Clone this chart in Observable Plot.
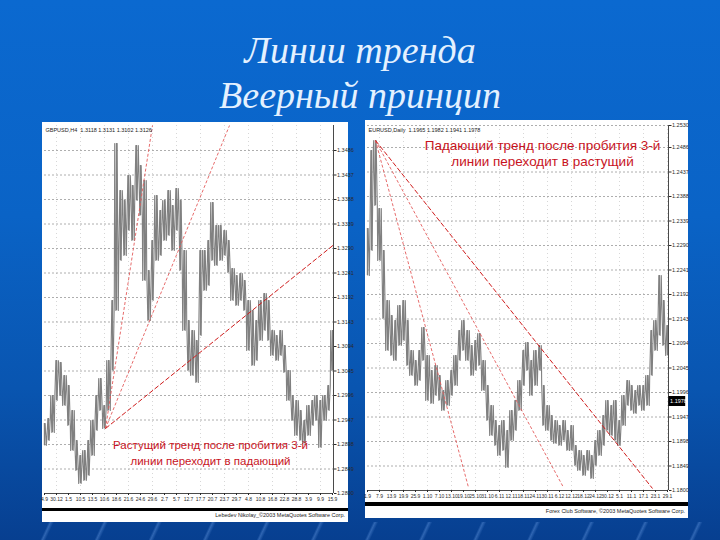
<!DOCTYPE html>
<html><head><meta charset="utf-8">
<script src="https://cdn.jsdelivr.net/npm/d3@7"></script>
<script src="https://cdn.jsdelivr.net/npm/@observablehq/plot@0.6"></script>
<style>
html,body{margin:0;padding:0;}
body{width:720px;height:540px;position:relative;overflow:hidden;
 background:linear-gradient(180deg,#0b69d0 0%,#0a63c6 40%,#0955b0 72%,#073f90 100%);
 font-family:"Liberation Sans",Arial,sans-serif;}
.streaks{position:absolute;left:0;top:522px;width:720px;height:18px;
 background:repeating-linear-gradient(115deg,rgba(120,170,240,0) 0px,rgba(120,170,240,0) 44px,rgba(120,170,240,0.35) 46px,rgba(120,170,240,0) 49px);}
.title{position:absolute;left:0;width:720px;text-align:center;color:#e4f1ff;
 font-family:"Liberation Serif","DejaVu Serif",serif;font-style:italic;font-size:38px;line-height:1;white-space:nowrap;}
.chart{position:absolute;}
.band{position:absolute;background:#000;}
.cap{position:absolute;background:#fff;font-size:5.5px;color:#222;text-align:right;box-sizing:border-box;padding-right:3px;}
</style></head>
<body>
<div class="streaks"></div>
<div class="title" style="top:31px">Линии тренда</div>
<div class="title" style="top:76px">Веерный принцип</div>
<div id="left" class="chart" style="left:42px;top:122px"></div>
<div class="band" style="left:42px;top:508px;width:306px;height:3px"></div>
<div class="cap" style="left:42px;top:511px;width:306px;height:11px;line-height:9px">Lebedev Nikolay_©2003 MetaQuotes Software Corp.</div>
<div id="right" class="chart" style="left:365px;top:120px"></div>
<div class="band" style="left:365px;top:502px;width:323px;height:4px"></div>
<div class="cap" style="left:365px;top:506px;width:323px;height:12px;line-height:10px">Forex Club Software, ©2003 MetaQuotes Software Corp.</div>
<script>
// ---------- LEFT CHART DATA (bars: high / low) ----------
const leftHigh = [1.2940,1.2950,1.2996,1.3066,1.3062,1.3036,1.3016,1.2966,1.2906,1.2876,
  1.2886,1.2906,1.2946,1.2996,1.3030,1.2976,1.3066,1.3186,1.3500,1.3406,
  1.3386,1.3436,1.3416,1.3496,1.3456,1.3426,1.3246,1.3306,1.3396,1.3366,
  1.3386,1.3406,1.3376,1.3410,1.3386,1.3286,1.3146,1.3126,1.3106,1.3286,
  1.3286,1.3306,1.3382,1.3336,1.3336,1.3326,1.3306,1.3250,1.3236,1.3240,
  1.3226,1.3186,1.3166,1.3146,1.3186,1.3200,1.3186,1.3126,1.3116,1.3126,
  1.3096,1.3046,1.2996,1.2986,1.2966,1.2946,1.2976,1.2986,1.2996,1.2986,
  1.2996,1.3016,1.3126];
const leftLow = [1.2896,1.2906,1.2922,1.2986,1.2996,1.2976,1.2936,1.2886,1.2846,1.2820,
  1.2826,1.2836,1.2876,1.2926,1.2966,1.2930,1.2966,1.3046,1.3166,1.3266,
  1.3276,1.3326,1.3306,1.3386,1.3356,1.3226,1.3146,1.3186,1.3266,1.3276,
  1.3306,1.3316,1.3286,1.3326,1.3246,1.3126,1.3046,1.3036,1.3022,1.3116,
  1.3206,1.3216,1.3266,1.3256,1.3266,1.3276,1.3242,1.3186,1.3176,1.3186,
  1.3166,1.3086,1.3056,1.3066,1.3106,1.3126,1.3106,1.3076,1.3066,1.3076,
  1.3042,1.2986,1.2946,1.2916,1.2906,1.2900,1.2916,1.2936,1.2946,1.2892,
  1.2946,1.2966,1.3046];
const leftYTicks = [1.2800,1.2849,1.2898,1.2947,1.2996,1.3045,1.3094,1.3143,1.3192,1.3241,1.3290,1.3339,1.3388,1.3437,1.3486];
const leftXLabels = ["4.9","30.12","1.5","10.5","13.5","10.6","18.6","21.6","24.6","29.6","2.7","5.7","12.7",
  "17.7","20.7","23.7","29.7","4.8","10.8","16.8","22.8","28.8","3.9","9.9","15.9"];
const leftFanStart = [15.25, 1.2930];
const leftFanEnds = [[27, 1.3536], [46.25, 1.3536], [72.25, 1.3297]];
const leftHeader = "GBPUSD,H4  1.3118 1.3131 1.3102 1.3126";
const leftNote = "Растущий тренд после пробития 3-й\nлинии переходит в падающий";
const leftNoteAt = [41.5, 1.2884];

// ---------- RIGHT CHART DATA ----------
const rightHigh = [1.2324,1.2480,1.2500,1.2364,1.2280,1.2180,1.2150,1.2140,1.2170,1.2180,
  1.2140,1.2080,1.2060,1.2080,1.2126,1.2070,1.2040,1.2050,1.2030,1.2000,
  1.2020,1.2040,1.2070,1.2120,1.2140,1.2120,1.2090,1.2100,1.2114,1.2060,
  1.2010,1.1970,1.1940,1.1930,1.1940,1.1920,1.1960,1.1980,1.2020,1.2080,
  1.2096,1.2060,1.2080,1.2090,1.2010,1.1970,1.1950,1.1940,1.1930,1.1940,
  1.1920,1.1930,1.1890,1.1880,1.1870,1.1880,1.1870,1.1900,1.1920,1.1950,
  1.1980,1.1970,1.1980,1.1940,1.1990,1.2020,1.2010,1.2000,1.2010,1.2010,
  1.2030,1.2120,1.2140,1.2230,1.2180,1.2130];
const rightLow = [1.2230,1.2280,1.2370,1.2260,1.2144,1.2080,1.2070,1.2060,1.2090,1.2100,
  1.2050,1.2030,1.2010,1.2020,1.2060,1.1980,1.1974,1.1990,1.1980,1.1960,
  1.1970,1.1990,1.2010,1.2060,1.2080,1.2060,1.2030,1.2040,1.2050,1.2000,
  1.1940,1.1910,1.1890,1.1870,1.1880,1.1846,1.1900,1.1920,1.1960,1.2010,
  1.2040,1.1990,1.2010,1.2040,1.1930,1.1920,1.1900,1.1894,1.1890,1.1900,
  1.1880,1.1880,1.1850,1.1840,1.1830,1.1840,1.1824,1.1850,1.1870,1.1890,
  1.1920,1.1910,1.1900,1.1890,1.1930,1.1970,1.1960,1.1954,1.1970,1.1960,
  1.1970,1.2030,1.2080,1.2110,1.2090,1.2070];
const rightYTicks = [1.1800,1.1849,1.1898,1.1947,1.1996,1.2045,1.2094,1.2143,1.2192,1.2241,1.2290,1.2339,1.2388,1.2437,1.2486,1.2530];
const rightXLabels = ["1.9","7.9","13.9","19.9","25.9","1.10","7.10","13.10","19.10","25.10","31.10","6.11","12.11",
  "18.11","24.11","30.11","6.12","12.12","18.12","24.12","30.12","5.1","11.1","17.1","23.1","29.1"];
const rightFanStart = [2, 1.2500];
const rightFanEnds = [[25.25, 1.1806], [49, 1.1806], [71.25, 1.1804]];
const rightHeader = "EURUSD,Daily  1.1965 1.1982 1.1941 1.1978";
const rightNote = "Падающий тренд после пробития 3-й\nлинии переходит в растущий";
const rightNoteAt = [43.75, 1.2475];
const rightLast = 1.1978;

// ---------- drawing ----------
const gray = "#808080";
const noteRed = "#c8141e";

function pricePanel(o) {
  const bars = o.high.map((h, i) => ({i, hi: h, lo: o.low[i]}));
  // path visiting each bar's high and low inside the bar's own slot (order alternates)
  const zig = bars.flatMap(b => b.i % 2
    ? [{x: b.i - 0.45, y: b.lo}, {x: b.i - 0.15, y: b.hi}, {x: b.i + 0.15, y: b.lo}, {x: b.i + 0.45, y: b.hi}]
    : [{x: b.i - 0.45, y: b.hi}, {x: b.i - 0.15, y: b.lo}, {x: b.i + 0.15, y: b.hi}, {x: b.i + 0.45, y: b.lo}]);
  const xTicks = o.xLabels.map((_, k) => k * 3);
  const xLab = new Map(xTicks.map((t, k) => [t, o.xLabels[k]]));
  const fans = o.fanEnds.map(e => ({x1: o.fanStart[0], y1: o.fanStart[1], x2: e[0], y2: e[1]}));
  const xMax = o.xDomain[1];
  const marks = [
    Plot.gridY(o.yTicks, {stroke: "#8c8c8c", strokeOpacity: 0.7, strokeDasharray: "2,2"}),
    Plot.gridX(xTicks.filter((t, k) => k % 2 === 1), {stroke: "#9a9a9a", strokeOpacity: 0.4, strokeDasharray: "1,3"}),
    Plot.line(zig, {x: "x", y: "y", stroke: gray, strokeWidth: 1.1, clip: true}),
    Plot.ruleX(bars, {x: "i", y1: "lo", y2: "hi", stroke: gray, strokeWidth: 1.4}),
    Plot.link(fans.slice(0, 2), {x1: "x1", y1: "y1", x2: "x2", y2: "y2", stroke: "#e35a5a", strokeWidth: 0.9, strokeDasharray: "3,2", clip: true}),
    Plot.link(fans.slice(2), {x1: "x1", y1: "y1", x2: "x2", y2: "y2", stroke: "#cf1c1c", strokeWidth: 1, strokeDasharray: "5,2", clip: true}),
    Plot.ruleX([xMax], {stroke: "#4a4a4a"}),
    Plot.ruleY([o.yDomain[0]], {stroke: "#4a4a4a"}),
    Plot.axisY(o.yTicks, {anchor: "right", tickFormat: d => d.toFixed(4), fontSize: 5.5, tickSize: 2.5, tickPadding: 1, color: "#2a2a2a"}),
    Plot.axisX(xTicks, {anchor: "bottom", tickFormat: d => xLab.get(d), fontSize: 5, tickSize: 2, tickPadding: 1.5, color: "#2a2a2a"}),
    Plot.text([o.header], {frameAnchor: "top-left", dx: 1, dy: 3, fontSize: 5.5, fill: "#222"}),
    Plot.text([o.note], {x: o.noteAt[0], y: o.noteAt[1], fontSize: o.noteSize, lineHeight: o.noteLH, fill: noteRed})
  ];
  if (o.last !== undefined) {
    marks.push(Plot.rect([o.last], {x1: xMax + 0.1, x2: xMax + 4.3, y1: d => d - 0.0010, y2: d => d + 0.0010, fill: "#000"}));
    marks.push(Plot.text([o.last], {x: xMax + 0.4, y: d => d, text: d => d.toFixed(4), textAnchor: "start", fontSize: 5.5, fill: "#fff"}));
  }
  return Plot.plot({
    width: o.width, height: o.height,
    marginLeft: o.m[0], marginRight: o.m[1], marginTop: o.m[2], marginBottom: o.m[3],
    style: {background: "#fff", fontFamily: "Liberation Sans, Arial, sans-serif", overflow: "visible"},
    x: {domain: o.xDomain, axis: null},
    y: {domain: o.yDomain, axis: null},
    marks
  });
}

document.getElementById("left").append(pricePanel({
  high: leftHigh, low: leftLow, yTicks: leftYTicks, xLabels: leftXLabels,
  fanStart: leftFanStart, fanEnds: leftFanEnds, header: leftHeader,
  note: leftNote, noteAt: leftNoteAt, noteSize: 11.5, noteLH: 1.45,
  width: 306, height: 386, m: [2, 15, 3, 15],
  xDomain: [0, 72.25], yDomain: [1.2800, 1.3536]
}));

document.getElementById("right").append(pricePanel({
  high: rightHigh, low: rightLow, yTicks: rightYTicks, xLabels: rightXLabels,
  fanStart: rightFanStart, fanEnds: rightFanEnds, header: rightHeader,
  note: rightNote, noteAt: rightNoteAt, noteSize: 13.5, noteLH: 1.15, last: rightLast,
  width: 323, height: 382, m: [2, 20, 5, 12],
  xDomain: [0, 75.25], yDomain: [1.1800, 1.2530]
}));
</script>
</body></html>
